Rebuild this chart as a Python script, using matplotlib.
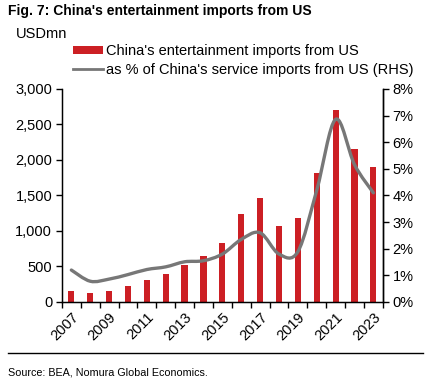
import numpy as np
import matplotlib
matplotlib.use("Agg")
import matplotlib.pyplot as plt
from matplotlib.path import Path
from matplotlib.patches import PathPatch, Patch
from matplotlib.lines import Line2D
from matplotlib.ticker import FuncFormatter

plt.rcParams['font.family'] = ['Liberation Sans', 'DejaVu Sans']

years = list(range(2007, 2024))
imports = [151, 122, 151, 221, 311, 391, 528, 652, 834, 1239, 1460, 1074, 1182, 1820, 2704, 2155, 1895]
share = [1.20, 0.78, 0.86, 1.03, 1.22, 1.32, 1.51, 1.55, 1.80, 2.35, 2.60, 1.80, 1.89, 4.20, 6.86, 5.16, 4.10]
tick_years = [str(y) for y in years]

red = '#cc1f24'
grey = '#777777'
fs = 10.5

fig = plt.figure(figsize=(4.36, 3.92), dpi=100)
ax = fig.add_axes([0.142, 0.2296, 0.736, 0.5434])
x = np.arange(len(years))

ax.bar(x, imports, width=0.33, color=red, zorder=2)
ax.set_xlim(-0.5, len(years) - 0.5)
ax.set_ylim(0, 3000)
ax.set_yticks(range(0, 3001, 500))
ax.yaxis.set_major_formatter(FuncFormatter(lambda v, p: f"{int(v):,}"))
ax.set_xticks(x[::2])
ax.set_xticklabels(tick_years[::2], rotation=45, ha='right', rotation_mode='anchor')
ax.set_xticks(np.arange(-0.5, len(years)), minor=True)
ax.tick_params(axis='x', which='major', length=0, pad=6, labelsize=fs)
ax.tick_params(axis='x', which='minor', length=4, width=1, direction='out')
ax.tick_params(axis='y', length=4, width=1, labelsize=fs, pad=3)
ax.spines['top'].set_visible(False)
for s in ['left', 'bottom', 'right']:
    ax.spines[s].set_linewidth(1)

ax2 = ax.twinx()
ax2.set_ylim(0, 8)
ax2.set_yticks(range(0, 9))
ax2.yaxis.set_major_formatter(FuncFormatter(lambda v, p: f"{int(v)}%"))
ax2.tick_params(axis='y', length=4, width=1, labelsize=fs, pad=3)
ax2.spines['top'].set_visible(False)
ax2.spines['right'].set_linewidth(1)

# smoothed line (Catmull-Rom as cubic Bezier)
pts = np.column_stack([x, share])
verts = [tuple(pts[0])]
codes = [Path.MOVETO]
n = len(pts)
for i in range(n - 1):
    p0 = pts[i - 1] if i > 0 else pts[i]
    p1 = pts[i]
    p2 = pts[i + 1]
    p3 = pts[i + 2] if i + 2 < n else pts[i + 1]
    c1 = p1 + (p2 - p0) / 6.0
    c2 = p2 - (p3 - p1) / 6.0
    verts += [tuple(c1), tuple(c2), tuple(p2)]
    codes += [Path.CURVE4] * 3
ax2.add_patch(PathPatch(Path(verts, codes), facecolor='none', edgecolor=grey,
                        linewidth=2.4, capstyle='round', zorder=3))

fig.text(0.019, 0.973, "Fig. 7: China's entertainment imports from US",
         fontsize=10, fontweight='bold', va='center', ha='left')
fig.text(0.037, 0.914, "USDmn", fontsize=fs, va='center', ha='left')

handles = [Patch(facecolor=red, edgecolor='none'),
           Line2D([0], [0], color=grey, linewidth=2)]
labels = ["China's entertainment imports from US",
          "as % of China's service imports from US (RHS)"]
fig.legend(handles, labels, loc='upper left', bbox_to_anchor=(0.167, 0.887),
           frameon=False, fontsize=fs, handlelength=2.05, handleheight=0.45,
           handletextpad=0.25, labelspacing=0.3, borderaxespad=0, borderpad=0)

fig.add_artist(Line2D([0.018, 0.970], [0.0995, 0.0995], color='black', linewidth=1,
                      transform=fig.transFigure))
fig.text(0.019, 0.051, "Source: BEA, Nomura Global Economics.", fontsize=7.75,
         va='center', ha='left')

fig.savefig("out.png", dpi=100)
